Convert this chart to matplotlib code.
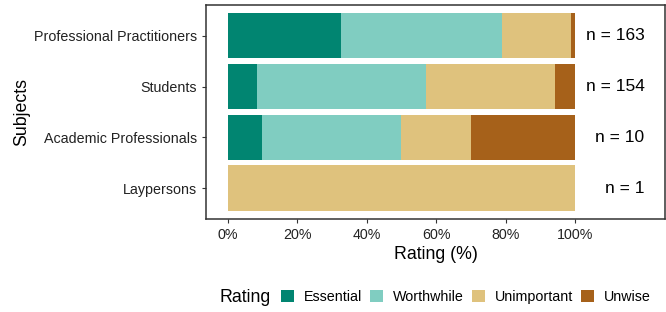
import matplotlib.pyplot as plt
from matplotlib.patches import Patch

plt.rcParams['font.family'] = ['Liberation Sans', 'DejaVu Sans']

# Данные: доли ответов по группам (снизу вверх)
subjects = ['Laypersons', 'Academic Professionals', 'Students', 'Professional Practitioners']
n_labels = ['n = 1', 'n = 10', 'n = 154', 'n = 163']
ratings = ['Essential', 'Worthwhile', 'Unimportant', 'Unwise']
essential = [0.0, 10.0, 8.4, 32.5]
worthwhile = [0.0, 40.0, 48.7, 46.6]
unimportant = [100.0, 20.0, 37.0, 19.6]
unwise = [0.0, 30.0, 5.8, 1.2]
colors = ['#018571', '#80cdc1', '#dfc27d', '#a6611a']

W, H = 666, 312
fig = plt.figure(figsize=(W / 100, H / 100), dpi=100)
ax = fig.add_axes([206 / W, 1 - 219 / H, (665 - 206) / W, (219 - 5) / H])

ypos = list(range(1, len(subjects) + 1))
left = [0.0] * len(subjects)
for vals, c in zip([essential, worthwhile, unimportant, unwise], colors):
    ax.barh(ypos, [v / 100 for v in vals], left=left, height=0.9, color=c, linewidth=0)
    left = [l + v / 100 for l, v in zip(left, vals)]

for y, lab in zip(ypos, n_labels):
    ax.text(1.2, y, lab, ha='right', va='center', fontsize=12.5, color='black')

ax.set_xlim(-0.0625, 1.259)
ax.set_ylim(0.4, 4.6)
ax.set_yticks(ypos)
ax.set_yticklabels(subjects)
ax.set_xticks([0, 0.2, 0.4, 0.6, 0.8, 1.0])
ax.set_xticklabels(['0%', '20%', '40%', '60%', '80%', '100%'])
ax.tick_params(axis='both', labelsize=10.3, colors='#333333', length=3, width=0.8, labelcolor='#222222')
for s in ax.spines.values():
    s.set_color('#333333')
    s.set_linewidth(1.1)
ax.set_xlabel('Rating (%)', fontsize=12.8)
ax.set_ylabel('Subjects', fontsize=12.8)
ax.xaxis.set_label_coords(0.5, (219 - 246) / 214)
ax.yaxis.set_label_coords((30 - 206) / 459, 0.5)

# легенда снизу: заголовок отдельно слева
fig.text(219 / W, 1 - 298 / H, 'Rating', fontsize=12.8, ha='left', va='center')
handles = [Patch(facecolor=c, edgecolor='none') for c in colors]
fig.legend(handles, ratings, loc='center left', bbox_to_anchor=(281 / W, 1 - 297 / H),
           ncol=4, frameon=False, fontsize=10.3, borderpad=0, borderaxespad=0,
           handlelength=0.9, handleheight=0.9, handletextpad=0.7, columnspacing=0.55)

fig.savefig('out.png', dpi=100)
